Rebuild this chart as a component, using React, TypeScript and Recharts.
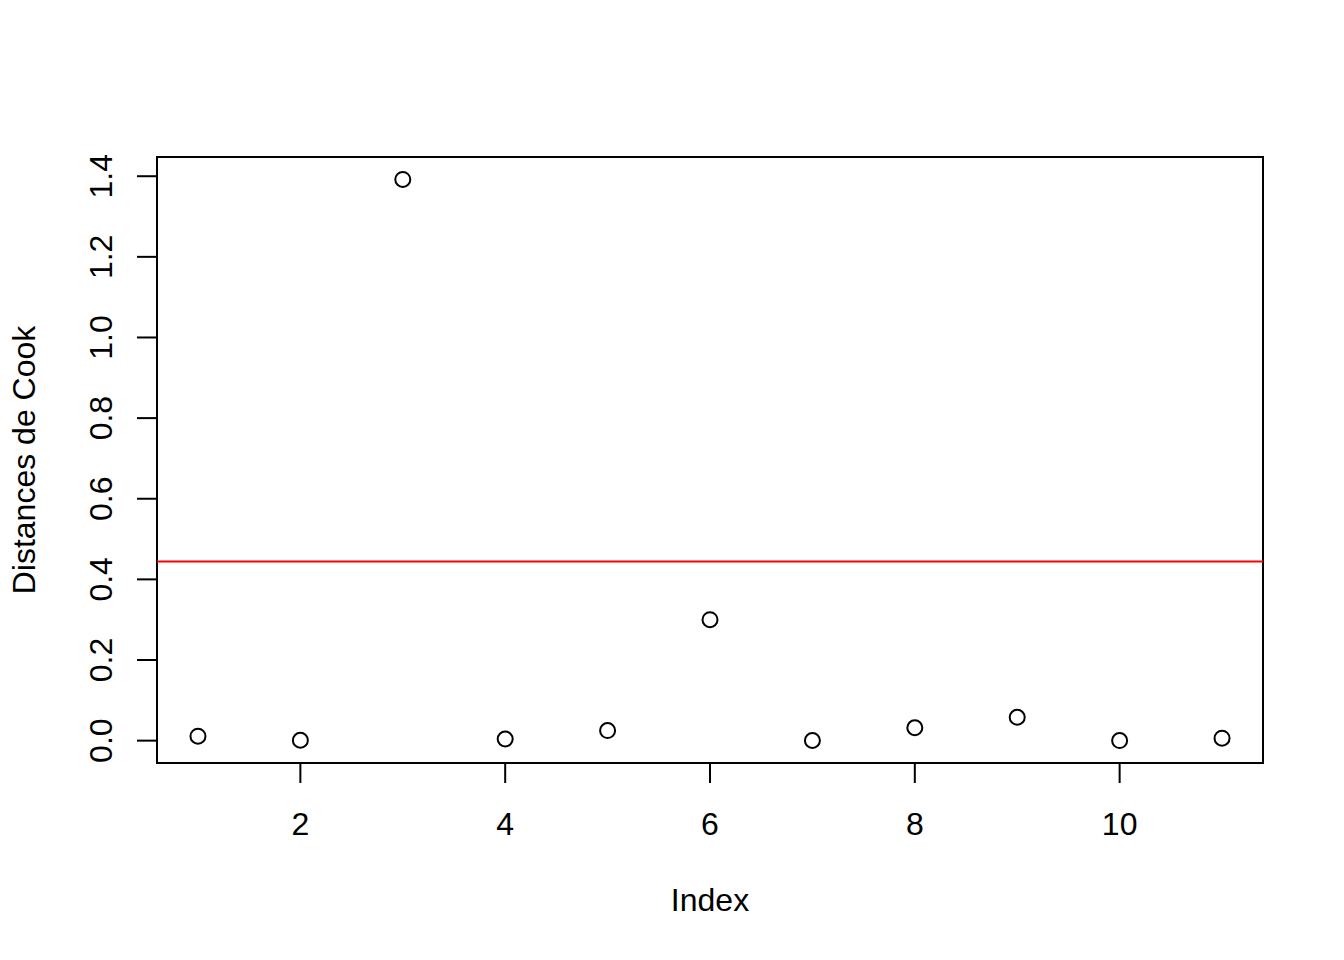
import React from "react";
import {
  ScatterChart,
  Scatter,
  XAxis,
  YAxis,
  ReferenceLine,
  ReferenceArea,
  Label,
} from "recharts";

const indices = [1, 2, 3, 4, 5, 6, 7, 8, 9, 10, 11];
const cookDistances = [0.011, 0.001, 1.392, 0.004, 0.025, 0.3, 0.0003, 0.032, 0.058, 0.0002, 0.006];
const xTicks = [2, 4, 6, 8, 10];
const yTicks = [0, 0.2, 0.4, 0.6, 0.8, 1.0, 1.2, 1.4];
const threshold = 4 / 9;
const xLabel = "Index";
const yLabel = "Distances de Cook";

const data = indices.map((x, i) => ({ x, y: cookDistances[i] }));

// R-style axis extension (4% on each side)
const extend = (vals: number[]): [number, number] => {
  const lo = Math.min(...vals);
  const hi = Math.max(...vals);
  const d = (hi - lo) * 0.04;
  return [lo - d, hi + d];
};
const xDomain = extend(indices);
const yDomain = extend(cookDistances);

const FONT = "'Liberation Sans', Arial, Helvetica, sans-serif";

const XTick = (props: any) => {
  const { x, y, payload } = props;
  return (
    <text x={x} y={y + 52} textAnchor="middle" fontSize={32} fontFamily={FONT} fill="#000">
      {String(payload.value)}
    </text>
  );
};

const YTick = (props: any) => {
  const { x, y, payload } = props;
  const bx = x - 25;
  return (
    <text
      x={bx}
      y={y}
      transform={`rotate(-90, ${bx}, ${y})`}
      textAnchor="middle"
      fontSize={32}
      fontFamily={FONT}
      fill="#000"
    >
      {Number(payload.value).toFixed(1)}
    </text>
  );
};

const OpenCircle = (props: any) => {
  const { cx, cy } = props;
  return <circle cx={cx} cy={cy} r={7.5} fill="none" stroke="#000" strokeWidth={2} />;
};

export default function App() {
  return (
    <div style={{ width: 1344, height: 960, background: "#fff" }}>
      <style>{`body{margin:0;}`}</style>
      <ScatterChart
        width={1344}
        height={960}
        margin={{ top: 157, right: 81, bottom: 97, left: 57 }}
      >
        <XAxis
          type="number"
          dataKey="x"
          domain={xDomain}
          ticks={xTicks}
          allowDataOverflow
          axisLine={false}
          tickSize={20}
          tickMargin={0}
          tickLine={{ stroke: "#000", strokeWidth: 2 }}
          tick={<XTick />}
          height={100}
          interval={0}
        >
          <Label
            content={(p: any) => {
              const vb = p.viewBox;
              return (
                <text
                  x={vb.x + vb.width / 2}
                  y={vb.y + 148}
                  textAnchor="middle"
                  fontSize={32}
                  fontFamily={FONT}
                  fill="#000"
                >
                  {xLabel}
                </text>
              );
            }}
          />
        </XAxis>
        <YAxis
          type="number"
          dataKey="y"
          domain={yDomain}
          ticks={yTicks}
          allowDataOverflow
          axisLine={false}
          tickSize={20}
          tickMargin={0}
          tickLine={{ stroke: "#000", strokeWidth: 2 }}
          tick={<YTick />}
          width={100}
          interval={0}
        >
          <Label
            content={(p: any) => {
              const vb = p.viewBox;
              const lx = vb.x - 22;
              const ly = vb.y + vb.height / 2;
              return (
                <text
                  x={lx}
                  y={ly}
                  transform={`rotate(-90, ${lx}, ${ly})`}
                  textAnchor="middle"
                  fontSize={32}
                  fontFamily={FONT}
                  fill="#000"
                >
                  {yLabel}
                </text>
              );
            }}
          />
        </YAxis>
        <ReferenceArea
          x1={xDomain[0]}
          x2={xDomain[1]}
          y1={yDomain[0]}
          y2={yDomain[1]}
          fill="none"
          fillOpacity={0}
          stroke="#000"
          strokeWidth={2}
          ifOverflow="visible"
        />
        <ReferenceLine y={threshold} stroke="#ff0000" strokeWidth={2} ifOverflow="visible" />
        <Scatter data={data} shape={<OpenCircle />} isAnimationActive={false} />
      </ScatterChart>
    </div>
  );
}
